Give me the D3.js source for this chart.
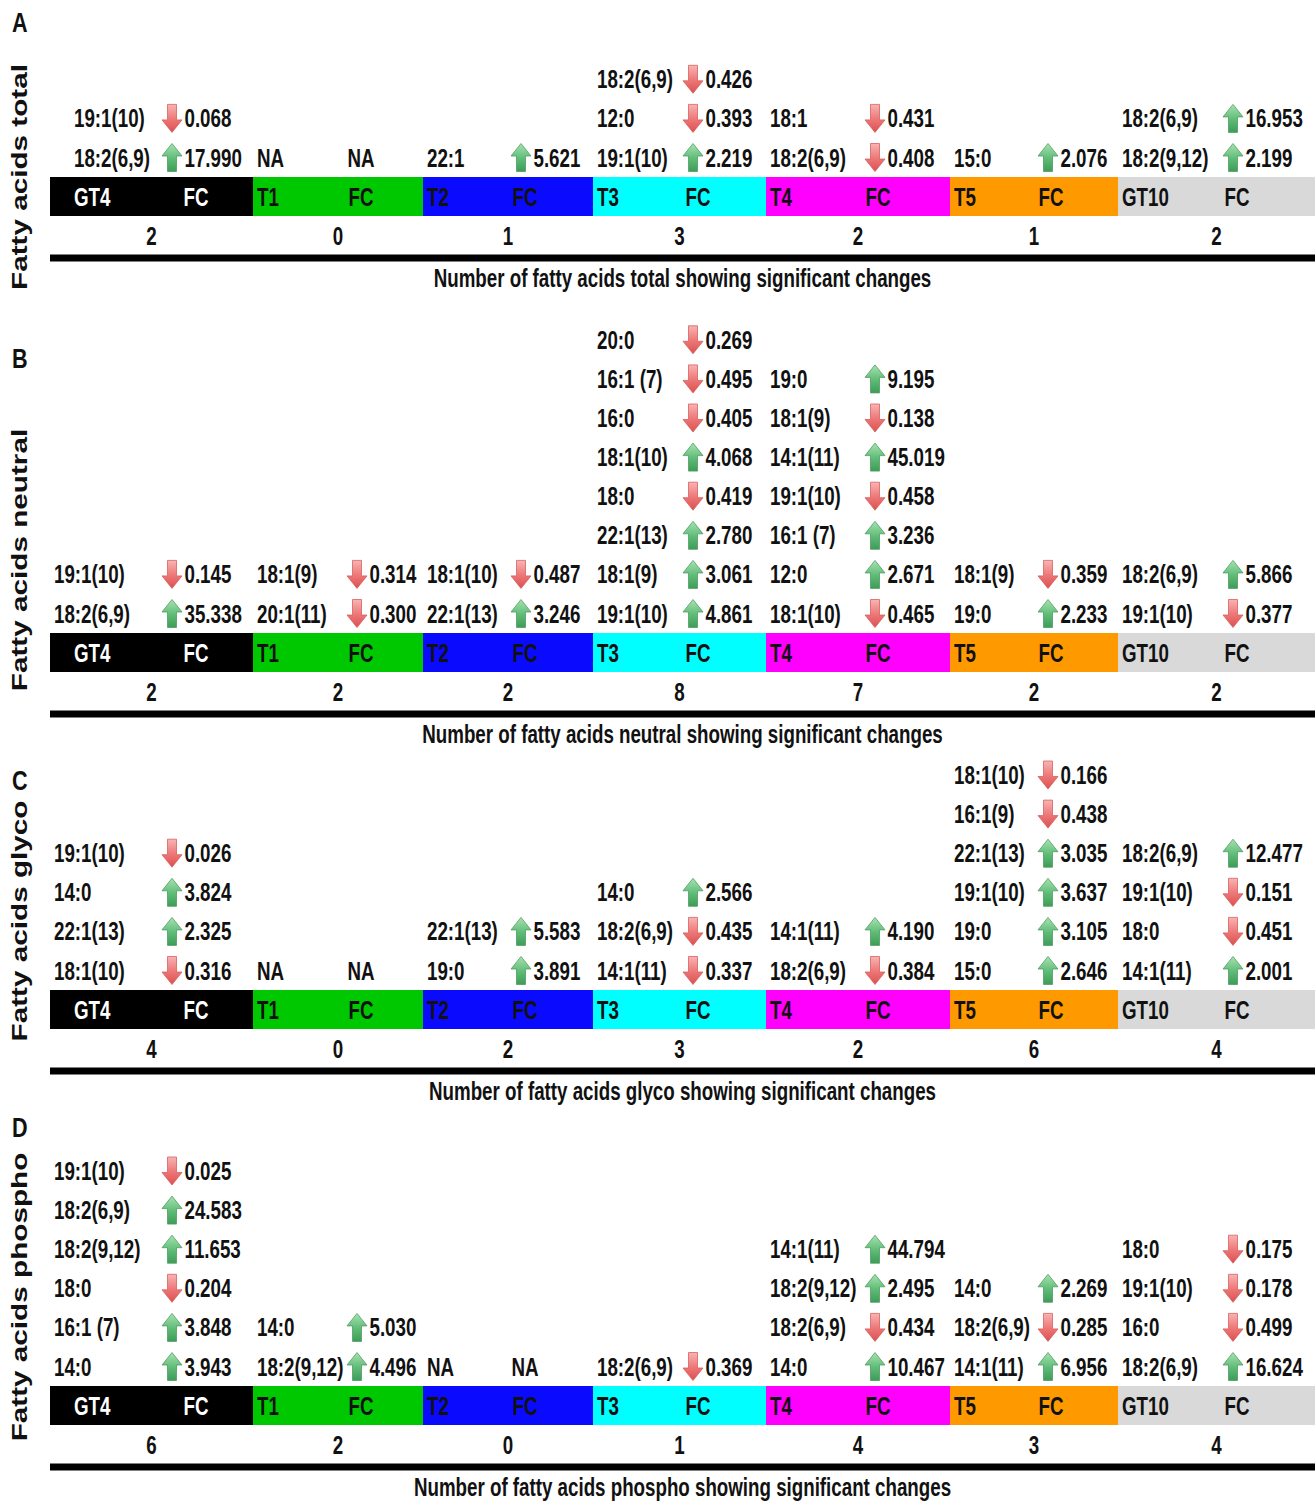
<!DOCTYPE html>
<html>
<head>
<meta charset="utf-8">
<script src="https://cdn.jsdelivr.net/npm/d3@7"></script>
<style>
html,body{margin:0;padding:0;background:#fff;}
svg{display:block;}
text{font-family:"Liberation Sans",Arial,"DejaVu Sans",sans-serif;font-weight:bold;fill:#111;}
</style>
</head>
<body>
<svg id="chart" width="1315" height="1501"></svg>
<script>
// ---------------- DATA ----------------
const groups = ["GT4","T1","T2","T3","T4","T5","GT10"];
const groupColors = ["#000000","#00c800","#0a0aff","#00ffff","#ff00ff","#ff9900","#d9d9d9"];
const groupTextColors = ["#ffffff","#111111","#111111","#111111","#111111","#111111","#111111"];
const panelLetters = ["A","B","C","D"];
const panelNames = ["total","neutral","glyco","phospho"];

// counts of significant changes per group
const countsTotal   = [2,0,1,3,2,1,2];
const countsNeutral = [2,2,2,8,7,2,2];
const countsGlyco   = [4,0,2,3,2,6,4];
const countsPhospho = [6,2,0,1,4,3,4];

// changes: per group, rows listed from the bar upward: [fatty acid, direction, fold change]; "NA" = none
const changesTotal = [
  [["18:2(6,9)","up",17.990],["19:1(10)","down",0.068]],
  "NA",
  [["22:1","up",5.621]],
  [["19:1(10)","up",2.219],["12:0","down",0.393],["18:2(6,9)","down",0.426]],
  [["18:2(6,9)","down",0.408],["18:1","down",0.431]],
  [["15:0","up",2.076]],
  [["18:2(9,12)","up",2.199],["18:2(6,9)","up",16.953]]
];
const changesNeutral = [
  [["18:2(6,9)","up",35.338],["19:1(10)","down",0.145]],
  [["20:1(11)","down",0.300],["18:1(9)","down",0.314]],
  [["22:1(13)","up",3.246],["18:1(10)","down",0.487]],
  [["19:1(10)","up",4.861],["18:1(9)","up",3.061],["22:1(13)","up",2.780],["18:0","down",0.419],
   ["18:1(10)","up",4.068],["16:0","down",0.405],["16:1 (7)","down",0.495],["20:0","down",0.269]],
  [["18:1(10)","down",0.465],["12:0","up",2.671],["16:1 (7)","up",3.236],["19:1(10)","down",0.458],
   ["14:1(11)","up",45.019],["18:1(9)","down",0.138],["19:0","up",9.195]],
  [["19:0","up",2.233],["18:1(9)","down",0.359]],
  [["19:1(10)","down",0.377],["18:2(6,9)","up",5.866]]
];
const changesGlyco = [
  [["18:1(10)","down",0.316],["22:1(13)","up",2.325],["14:0","up",3.824],["19:1(10)","down",0.026]],
  "NA",
  [["19:0","up",3.891],["22:1(13)","up",5.583]],
  [["14:1(11)","down",0.337],["18:2(6,9)","down",0.435],["14:0","up",2.566]],
  [["18:2(6,9)","down",0.384],["14:1(11)","up",4.190]],
  [["15:0","up",2.646],["19:0","up",3.105],["19:1(10)","up",3.637],["22:1(13)","up",3.035],
   ["16:1(9)","down",0.438],["18:1(10)","down",0.166]],
  [["14:1(11)","up",2.001],["18:0","down",0.451],["19:1(10)","down",0.151],["18:2(6,9)","up",12.477]]
];
const changesPhospho = [
  [["14:0","up",3.943],["16:1 (7)","up",3.848],["18:0","down",0.204],["18:2(9,12)","up",11.653],
   ["18:2(6,9)","up",24.583],["19:1(10)","down",0.025]],
  [["18:2(9,12)","up",4.496],["14:0","up",5.030]],
  "NA",
  [["18:2(6,9)","down",0.369]],
  [["14:0","up",10.467],["18:2(6,9)","down",0.434],["18:2(9,12)","up",2.495],["14:1(11)","up",44.794]],
  [["14:1(11)","up",6.956],["18:2(6,9)","down",0.285],["14:0","up",2.269]],
  [["18:2(6,9)","up",16.624],["16:0","down",0.499],["19:1(10)","down",0.178],["18:0","down",0.175]]
];

const allCounts  = [countsTotal,countsNeutral,countsGlyco,countsPhospho];
const allChanges = [changesTotal,changesNeutral,changesGlyco,changesPhospho];

// ---------------- LAYOUT ----------------
const W = 1315, H = 1501;
const segEdges = [50,253,423,593,766,950,1118,1315];
const fcOffset = [146,108,102,105,112,101,119];     // "FC" label centre from segment left
const arrowOffset = [122,104,98,100,109,98,115];    // arrow centre from segment left
const barTops = [177,633,990,1386];
const gt4NameOffset = [24,4,4,4];
const titleCenters = [177,560,921,1297];
const letterBaselines = [32,368,790,1137];
const barH = 39, rowStep = 39.1;
const FS = 25, SX = 0.75;

const svg = d3.select("#chart");
svg.append("rect").attr("width",W).attr("height",H).attr("fill","#fff");

const defs = svg.append("defs");
const gUp = defs.append("linearGradient").attr("id","gUp").attr("x1",0).attr("y1",0).attr("x2",0).attr("y2",1);
gUp.append("stop").attr("offset","0%").attr("stop-color","#a8e2b0");
gUp.append("stop").attr("offset","55%").attr("stop-color","#5dbb76");
gUp.append("stop").attr("offset","100%").attr("stop-color","#3f9c58");
const gDn = defs.append("linearGradient").attr("id","gDn").attr("x1",0).attr("y1",0).attr("x2",0).attr("y2",1);
gDn.append("stop").attr("offset","0%").attr("stop-color","#f8b4b4");
gDn.append("stop").attr("offset","50%").attr("stop-color","#ee7a7a");
gDn.append("stop").attr("offset","100%").attr("stop-color","#dc5050");

const xLeft = d3.scaleOrdinal().domain(groups).range(segEdges.slice(0,7));
const xRight = d3.scaleOrdinal().domain(groups).range(segEdges.slice(1));
const fmt = d3.format(".3f");

function txt(g, x, y, s, opts={}) {
  const t = g.append("text")
    .attr("transform",`translate(${x},${y}) scale(${opts.sx||SX},1)`)
    .attr("font-size", opts.fs||FS)
    .attr("text-anchor", opts.anchor||"start")
    .text(s);
  if (opts.fill) t.style("fill", opts.fill);
  if (opts.stroke) t.style("stroke", opts.stroke).style("stroke-width", 0.4);
  return t;
}

const upPath = "M0,-14 L10,-1.5 L4.5,-1.5 L4.5,14 L-4.5,14 L-4.5,-1.5 L-10,-1.5 Z";
const dnPath = "M0,14 L10,1.5 L4.5,1.5 L4.5,-14 L-4.5,-14 L-4.5,1.5 L-10,1.5 Z";

panelLetters.forEach((letter, p) => {
  const g = svg.append("g");
  const barTop = barTops[p];
  const rowY = d3.scaleLinear().domain([0,1]).range([barTop - 19.5, barTop - 19.5 - rowStep]);
  const baseOff = 9; // baseline offset from text centre

  // panel letter
  txt(g, 12, letterBaselines[p], letter, {fs:27, sx:0.8});

  // rotated title
  g.append("text")
    .attr("transform",`translate(27,${titleCenters[p]}) rotate(-90) scale(1.35,1)`)
    .attr("font-size",22).attr("text-anchor","middle")
    .text("Fatty acids " + panelNames[p]);

  // bar segments
  g.selectAll("rect.seg").data(groups).enter().append("rect")
    .attr("x", d => xLeft(d)).attr("y", barTop)
    .attr("width", d => xRight(d) - xLeft(d)).attr("height", barH)
    .attr("fill", (d,i) => groupColors[i]);

  groups.forEach((grp, i) => {
    const L = xLeft(grp), R = xRight(grp);
    const nameX = L + (i === 0 ? 24 : 4);
    const barMid = barTop + barH/2 + baseOff;
    txt(g, nameX, barMid, grp, {fill: groupTextColors[i]});
    txt(g, L + fcOffset[i], barMid, "FC", {anchor:"middle", fill: groupTextColors[i]});
    // count
    txt(g, (L+R)/2, barTop + barH + 19.5 + baseOff, String(allCounts[p][i]), {anchor:"middle"});

    const ch = allChanges[p][i];
    const nX = L + (i === 0 ? gt4NameOffset[p] : 4);
    if (ch === "NA") {
      txt(g, nX, rowY(0) + baseOff, "NA");
      txt(g, L + fcOffset[i], rowY(0) + baseOff, "NA", {anchor:"middle"});
    } else {
      ch.forEach((row, r) => {
        const cy = rowY(r);
        txt(g, nX, cy + baseOff, row[0]);
        const ax = L + arrowOffset[i];
        g.append("path")
          .attr("d", row[1] === "up" ? upPath : dnPath)
          .attr("transform", `translate(${ax},${cy})`)
          .attr("fill", row[1] === "up" ? "url(#gUp)" : "url(#gDn)")
          .attr("stroke", row[1] === "up" ? "#4f9d62" : "#d86060")
          .attr("stroke-width", 0.8);
        txt(g, ax + 12.5, cy + baseOff, fmt(row[2]));
      });
    }
  });

  // thick rule
  const lineY = barTop + barH + 42;
  g.append("rect").attr("x", segEdges[0]).attr("y", lineY - 3.5)
    .attr("width", segEdges[7] - segEdges[0]).attr("height", 7).attr("fill","#000");

  // axis label
  txt(g, (segEdges[0]+segEdges[7])/2, barTop + barH + 62 + baseOff,
      "Number of fatty acids " + panelNames[p] + " showing significant changes", {anchor:"middle"});
});
</script>
</body>
</html>
